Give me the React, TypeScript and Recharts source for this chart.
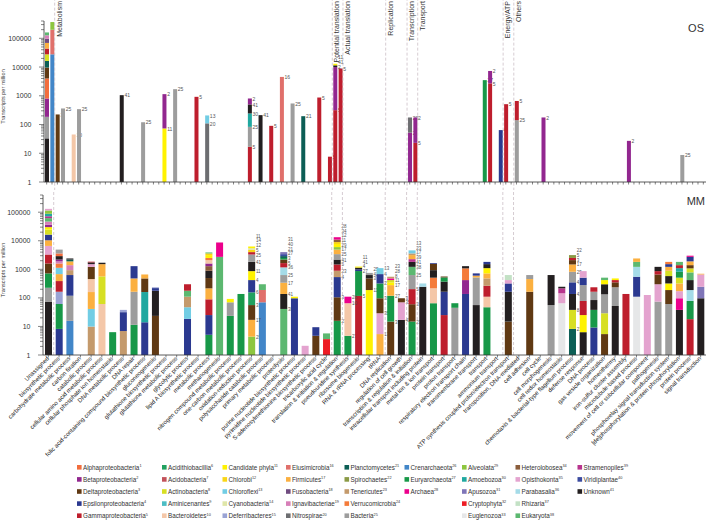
import React from 'react';
import { BarChart, Bar, XAxis, YAxis, ReferenceLine } from 'recharts';

const FONT = '"Liberation Sans", Arial, Helvetica, sans-serif';

// ---------- taxa (legend) ----------
const taxa: string[] = [
  'Alphaproteobacteria', 'Betaproteobacteria', 'Deltaproteobacteria', 'Epsilonproteobacteria', 'Gammaproteobacteria',
  'Acidithiobacillia', 'Acidobacteria', 'Actinobacteria', 'Aminicenantes', 'Bacteroidetes',
  'Candidate phyla', 'Chlorobi', 'Chloroflexi', 'Cyanobacteria', 'Deferribacteres',
  'Elusimicrobia', 'Firmicutes', 'Fusobacteria', 'Ignavibacteriae', 'Nitrospirae',
  'Planctomycetes', 'Spirochaetes', 'Tenericutes', 'Verrucomicrobia', 'Bacteria',
  'Crenarchaeota', 'Euryarchaeota', 'Archaea',
  'Alveolata', 'Amoebozoa', 'Apusozoa', 'Cryptophyta', 'Euglenozoa',
  'Heterolobosea', 'Opisthokonta', 'Parabasalia', 'Rhizaria', 'Eukaryota',
  'Stramenopiles', 'Viridiplantae', 'Unknown',
];

const taxonColors: string[] = [
  '#f26d3d', '#92278f', '#603913', '#2b3990', '#be1e2d',
  '#22a160', '#c2525a', '#d7df23', '#4cbdc4', '#f4c7a8',
  '#fff200', '#f9d616', '#72cde4', '#dfe6a8', '#9aa3d4',
  '#e0706b', '#fbb040', '#704c80', '#d77fb8', '#6d6e71',
  '#0c5e55', '#8a9a45', '#c49a6c', '#f47b3a', '#9d9d9d',
  '#4286c8', '#179848', '#ec008c',
  '#8dc63f', '#20a8a0', '#7f75b8', '#ed1c24', '#e6e7e8',
  '#8b5e3c', '#e4a3cf', '#a5dbe8', '#c3e1c5', '#5cb870',
  '#b8348e', '#3b4ba0', '#231f20',
];

const legendColumnSizes: number[] = [5, 5, 5, 5, 5, 3, 5, 5, 3];

// ---------- MM categories ----------
const mmCategories: string[] = [
  'Unassigned', 'biosynthetic process', 'carbohydrate metabolic process', 'carbon fixation', 'catabolic process',
  'cellular amino acid metabolic process', 'cellular phosphate ion homeostasis', 'DNA metabolic process', 'DNA repair',
  'folic acid-containing compound biosynthetic process', 'gluconeogenesis', 'glutathione biosynthetic process',
  'glutathione metabolic process', 'glycolytic process', 'lipid A biosynthetic process', 'metabolic process',
  'methanogenesis', 'nitrogen compound metabolic process', 'one-carbon metabolic process', 'oxidation-reduction process',
  'polysaccharide catabolic process', 'primary metabolic process', 'proteolysis', 'purine nucleotide biosynthetic process',
  'pyrimidine nucleotide biosynthetic process', 'S-adenosylmethionine biosynthetic process', 'tricarboxylic acid cycle',
  'translation & initiation & regulation', 'pseudouridine synthesis', 'ribosome biogenesis', 'RNA & rRNA processing',
  'tRNA', 'DNA replication', 'regulation of cell growth', 'transcription & regulation & initiation',
  'intracellular transport including protein', 'metal ion & ion transport', 'protein transport', 'proton transport',
  'respiratory electron transport chain', 'transmembrane transport', 'transport', 'ammonium transport',
  'ATP synthesis coupled proton/electron transport', 'transposition, DNA-mediated', 'cell adhesion', 'cell cycle',
  'cell morphogenesis', 'cell redox homeostasis', 'chemotaxis & bacterial-type flagellum process', 'defense response',
  'DNA process', 'gas vesicle organization', 'homeothermy', 'iron-sulfur cluster assembly', 'microtubule-based process',
  'movement of cell or subcellular component', 'pathogenesis', 'phosphorelay signal transduction system',
  '[de]phosphorylation & protein phosphorylation', 'protein process', 'signal transduction',
];

// MM stacks: [category, [[taxonId, cumulative top (TPM)], ...] bottom -> top]
const mmStacks: [string, number[][]][] = [
  ['Unassigned', [[41, 74], [25, 226], [27, 720], [3, 1600], [5, 3300], [35, 6600], [17, 10400], [4, 16400], [8, 24600], [11, 30000], [2, 36600], [19, 47000], [38, 62000], [39, 72000], [30, 88000], [29, 115000], [35, 131000]]],
  ['biosynthetic process', [[4, 8.2], [27, 61], [15, 164], [5, 388], [17, 680], [13, 1130], [24, 1600], [19, 1900], [2, 2200], [41, 2900], [1, 3600], [25, 4900]]],
  ['carbohydrate metabolic process', [[26, 15.7], [25, 119], [4, 630], [23, 935], [19, 1400], [17, 1900], [21, 2200], [41, 2400]]],
  ['catabolic process', [[23, 9.9], [13, 41], [17, 160], [10, 456], [3, 1220], [35, 1520], [41, 1750], [5, 1850]]],
  ['cellular amino acid metabolic process', [[10, 61], [8, 565], [17, 1520], [41, 1700]]],
  ['cellular phosphate ion homeostasis', [[27, 6.3]]],
  ['DNA metabolic process', [[23, 6.9], [4, 31.6], [15, 38]]],
  ['DNA repair', [[27, 11.4], [25, 164], [17, 480], [4, 1290]]],
  ['folic acid-containing compound biosynthetic process', [[4, 14], [30, 160], [3, 480], [17, 660]]],
  ['gluconeogenesis', [[3, 23.4], [41, 178], [4, 220], [15, 235]]],
  ['glycolytic process', [[4, 18.4], [13, 47], [23, 110], [38, 178], [5, 300]]],
  ['metabolic process', [[27, 5.1], [4, 25], [5, 89], [17, 216], [3, 495], [41, 890], [34, 1290], [2, 1600], [10, 2100], [24, 2500], [11, 3150], [12, 3600], [38, 3900]]],
  ['methanogenesis', [[38, 2730], [28, 8700]]],
  ['nitrogen compound metabolic process', [[27, 23.4], [25, 70], [11, 92]]],
  ['one-carbon metabolic process', [[27, 137]]],
  ['oxidation-reduction process', [[29, 4.4], [17, 17], [3, 56], [6, 156], [4, 420], [11, 865], [41, 1820], [25, 3300], [5, 4000], [12, 4800], [14, 5500], [11, 6300]]],
  ['polysaccharide catabolic process', [[26, 70], [16, 189], [38, 300]]],
  ['proteolysis', [[38, 41], [41, 137], [17, 340], [25, 630], [36, 1170], [5, 1650], [3, 2200], [27, 2500], [21, 2900], [40, 3400], [31, 4000]]],
  ['purine nucleotide biosynthetic process', [[4, 97], [11, 110]]],
  ['pyrimidine nucleotide biosynthetic process', [[35, 2.1]]],
  ['S-adenosylmethionine biosynthetic process', [[3, 4.7], [4, 9.4]]],
  ['tricarboxylic acid cycle', [[32, 3.6], [38, 5.7]]],
  ['translation & initiation & regulation', [[27, 15.7], [3, 105], [4, 535], [23, 890], [5, 1480], [41, 2200], [25, 3400], [17, 4900], [29, 6000], [11, 7700], [12, 9000], [34, 11000], [28, 13300]]],
  ['pseudouridine synthesis', [[27, 4.7], [10, 65], [28, 110]]],
  ['ribosome biogenesis', [[5, 117], [27, 870], [4, 1000], [41, 1150], [11, 1250]]],
  ['RNA & rRNA processing', [[11, 188], [3, 480], [41, 630], [25, 750]]],
  ['tRNA', [[17, 5.4], [35, 29], [3, 97], [27, 320], [4, 680], [13, 1100]]],
  ['DNA replication', [[3, 14.8], [27, 119], [17, 280], [11, 350], [8, 420], [28, 480], [23, 550]]],
  ['regulation of cell growth', [[41, 17], [35, 70], [3, 97]]],
  ['transcription & regulation & initiation', [[27, 14.8], [3, 60], [5, 203], [25, 630], [38, 1220], [41, 1820], [39, 2270], [17, 3150], [23, 3600], [13, 4600]]],
  ['intracellular transport including protein', [[41, 245], [36, 320]]],
  ['metal ion & ion transport', [[27, 65], [10, 216], [24, 510], [41, 935], [3, 1550], [4, 1650]]],
  ['protein transport', [[5, 25], [4, 164], [41, 370], [27, 520], [3, 560]]],
  ['proton transport', [[25, 45], [27, 65]]],
  ['respiratory electron transport chain', [[4, 137], [2, 420], [24, 1080], [41, 1290]]],
  ['transmembrane transport', [[41, 56], [25, 520], [17, 600], [4, 720]]],
  ['transport', [[27, 47], [10, 110], [5, 265], [23, 480], [17, 720], [11, 1100], [41, 1520], [4, 1820]]],
  ['ATP synthesis coupled proton/electron transport', [[3, 14.8], [41, 164], [4, 320], [35, 420], [37, 630]]],
  ['cell adhesion', [[3, 164], [17, 456], [25, 630]]],
  ['cell morphogenesis', [[25, 56], [41, 630]]],
  ['cell redox homeostasis', [[33, 65], [35, 145], [39, 216], [41, 245]]],
  ['chemotaxis & bacterial-type flagellum process', [[21, 8.2], [8, 38], [41, 137], [4, 350], [25, 820], [17, 1480], [3, 2100], [5, 2500], [22, 3150]]],
  ['defense response', [[41, 6.3], [11, 25], [5, 78], [25, 280], [4, 510], [35, 865]]],
  ['DNA process', [[4, 9.2], [27, 38], [41, 84], [25, 164], [5, 235]]],
  ['gas vesicle organization', [[3, 5.4], [8, 29], [25, 133], [41, 300], [11, 420], [38, 510]]],
  ['homeothermy', [[41, 52], [25, 235], [3, 350], [5, 420], [11, 480]]],
  ['iron-sulfur cluster assembly', [[5, 137]]],
  ['microtubule-based process', [[33, 110], [4, 550], [36, 1220], [38, 1820], [17, 2400]]],
  ['movement of cell or subcellular component', [[35, 126]]],
  ['pathogenesis', [[25, 74], [35, 300], [3, 660], [5, 865], [41, 1220]]],
  ['phosphorelay signal transduction system', [[25, 61], [3, 188], [11, 320], [41, 580], [8, 890], [17, 1220], [4, 1520], [24, 1820]]],
  ['[de]phosphorylation & protein phosphorylation', [[41, 38], [28, 97], [35, 172], [17, 320], [8, 510], [27, 820], [30, 1100], [5, 1400], [38, 1820]]],
  ['protein process', [[5, 18], [27, 78], [36, 188], [41, 420], [38, 780], [8, 1080], [3, 1400], [17, 1900], [4, 2730], [28, 3000]]],
  ['signal transduction', [[41, 97], [31, 245], [35, 660], [17, 700]]],
];

const mmLabeled: string[] = [
  'oxidation-reduction process', 'proteolysis', 'translation & initiation & regulation', 'pseudouridine synthesis',
  'ribosome biogenesis', 'RNA & rRNA processing', 'tRNA', 'DNA replication', 'regulation of cell growth',
  'transcription & regulation & initiation', 'chemotaxis & bacterial-type flagellum process',
];

// ---------- OS slots ----------
const OS_SLOTS = 124;
const osStacks: [number, number[][]][] = [
  [0, [[41, 33], [25, 185], [2, 805], [1, 4000], [3, 9600], [21, 16300], [8, 27700], [5, 44000], [17, 69000], [18, 96000], [19, 127000], [38, 160000]]],
  [1, [[26, 27700], [16, 198000], [29, 368000]]],
  [2, [[3, 224]]],
  [3, [[25, 362]]],
  [5, [[10, 45]]],
  [6, [[25, 343]]],
  [14, [[41, 1050]]],
  [18, [[25, 120]]],
  [22, [[11, 73], [2, 1140]]],
  [24, [[25, 1700]]],
  [28, [[5, 920]]],
  [30, [[20, 110], [13, 207]]],
  [38, [[5, 16.8], [25, 83], [30, 243], [41, 500], [2, 805]]],
  [40, [[41, 212]]],
  [42, [[5, 90]]],
  [44, [[16, 4530]]],
  [46, [[25, 540]]],
  [48, [[21, 195]]],
  [51, [[5, 870]]],
  [53, [[5, 7.6]]],
  [54, [[5, 316], [2, 10000], [41, 11500], [11, 13000]]],
  [55, [[5, 8900]]],
  [68, [[2, 52], [20, 176]]],
  [69, [[5, 23], [2, 176]]],
  [82, [[27, 3500]]],
  [83, [[5, 2700], [2, 7300]]],
  [85, [[4, 64]]],
  [86, [[5, 510]]],
  [88, [[25, 142], [5, 660]]],
  [93, [[2, 176]]],
  [109, [[2, 27]]],
  [119, [[25, 8.7]]],
];
const osUnlabeled: number[] = [0, 1];

// ---------- functional groups (dashed boundaries) ----------
const groupBounds: [string, string][] = [
  ['Metabolism', 'biosynthetic process'],
  ['Potential translation', 'translation & initiation & regulation'],
  ['Actual translation', 'pseudouridine synthesis'],
  ['Replication', 'DNA replication'],
  ['Transcription', 'transcription & regulation & initiation'],
  ['Transport', 'intracellular transport including protein'],
  ['Energy/ATP', 'ATP synthesis coupled proton/electron transport'],
  ['Others', 'transposition, DNA-mediated'],
];

const yTicks: number[] = [
  1, 2, 3, 4, 5, 6, 7, 8, 9,
  10, 20, 30, 40, 50, 60, 70, 80, 90,
  100, 200, 300, 400, 500, 600, 700, 800, 900,
  1000, 2000, 3000, 4000, 5000, 6000, 7000, 8000, 9000,
  10000, 20000, 30000, 40000, 50000, 60000, 70000, 80000, 90000,
  100000, 200000, 300000, 400000,
];
const yMajor: number[] = [1, 10, 100, 1000, 10000, 100000];

// ---------- table building ----------
const MAX_SEGS = Math.max(...mmStacks.map((s) => s[1].length), ...osStacks.map((s) => s[1].length));
const segIdx: number[] = Array.from({ length: MAX_SEGS }, (_, i) => i);

// gap between stacked labels, in decades of the log axis
function stackRow(name: string, segs: number[][] | undefined, labeled: boolean, gapDec: number) {
  const row: any = { name, labeled };
  let prev = 0;
  let lastLabel = -Infinity;
  for (let k = 0; k < MAX_SEGS; k++) {
    const s = segs ? segs[k] : undefined;
    row['v' + k] = s ? s[1] - prev : 0;
    row['t' + k] = s ? s[0] : 0;
    row['c' + k] = s ? s[1] : prev;
    if (s) {
      const lt = Math.log10(s[1]);
      const pos = Math.max(lt, lastLabel + gapDec);
      row['ls' + k] = pos - lt;
      lastLabel = pos;
      prev = s[1];
    } else {
      row['ls' + k] = 0;
    }
  }
  return row;
}

const mmStackMap = new Map<string, number[][]>(mmStacks);
const mmRows = mmCategories.map((c) => stackRow(c, mmStackMap.get(c), mmLabeled.includes(c), 0.165));
const osStackMap = new Map<number, number[][]>(osStacks);
const osRows = Array.from({ length: OS_SLOTS }, (_, k) =>
  stackRow(String(k), osStackMap.get(k), !osUnlabeled.includes(k), 0.18)
);

const groupLines = groupBounds.map(([label, cat]) => ({ label, cat, idx: mmCategories.indexOf(cat) }));

// ---------- renderers ----------
const segShape = (k: number, fs: number) => (props: any) => {
  const { x, y, width, height, payload } = props;
  const t = payload ? payload['t' + k] : 0;
  if (!t || !(height > 0.01)) return <g />;
  let ly = y;
  if (payload.labeled && payload['ls' + k] > 0) {
    const top = payload['c' + k];
    const bot = Math.max(k > 0 ? payload['c' + (k - 1)] : 1, 1);
    const dec = Math.log10(top) - Math.log10(bot);
    if (dec > 0) ly = y - payload['ls' + k] * (height / dec);
  }
  return (
    <g>
      <rect x={x} y={y} width={width} height={height} fill={taxonColors[t - 1]} />
      {payload.labeled ? (
        <text x={x + width + 0.7} y={ly + fs * 0.36 + 0.4} fontSize={fs} fill="#555" fontFamily={FONT}>
          {t}
        </text>
      ) : null}
    </g>
  );
};

const renderYTick = (props: any) => {
  const { x, y, payload } = props;
  const v = payload.value;
  const major = yMajor.includes(v);
  return (
    <g>
      <line x1={x - (major ? 5 : 3)} x2={x} y1={y} y2={y} stroke="#333" strokeWidth={0.6} />
      {major ? (
        <text x={x - 12.5} y={y} dy="0.36em" textAnchor="end" fontSize={7} fill="#333" fontFamily={FONT}>
          {v}
        </text>
      ) : null}
    </g>
  );
};

const renderOSTick = (props: any) => {
  const { x, y } = props;
  return <line x1={x} x2={x} y1={y} y2={y + 2.5} stroke="#333" strokeWidth={0.6} />;
};

const renderMMTick = (props: any) => {
  const { x, y, payload } = props;
  const ax = x + 1;
  const ay = y + 4;
  return (
    <g>
      <line x1={x} x2={x} y1={y} y2={y + 2.5} stroke="#333" strokeWidth={0.6} />
      <text x={ax} y={ay} transform={`rotate(-45 ${ax} ${ay})`} textAnchor="end" fontSize={6} fill="#222" fontFamily={FONT}>
        {payload.value}
      </text>
    </g>
  );
};

const yTitle = (props: any) => {
  const vb = props.viewBox || {};
  const cx = (vb.x ?? 0) + 5;
  const cy = (vb.y ?? 0) + (vb.height ?? 0) / 2 - 5;
  return (
    <text x={cx} y={cy} transform={`rotate(-90 ${cx} ${cy})`} textAnchor="middle" fontSize={5.6} fill="#333" fontFamily={FONT}>
      Transcripts per million
    </text>
  );
};

const groupLabel = (text: string) => (props: any) => {
  const vb = props.viewBox || {};
  const lx = (vb.x ?? vb.x1 ?? props.x ?? 0) + 7;
  const ly = 1;
  return (
    <text x={lx} y={ly} transform={`rotate(-90 ${lx} ${ly})`} textAnchor="end" fontSize={7} fill="#333" fontFamily={FONT}>
      {text}
    </text>
  );
};

const DASH = { stroke: '#c4b6bf', strokeDasharray: '3 2', strokeWidth: 0.7 };
const AXIS = { stroke: '#333', strokeWidth: 0.8 };

function Legend() {
  const colLeft = [77, 162, 222.5, 286, 344.5, 404.5, 462, 515.5, 577.5];
  const rowY = (r: number) => 467.3 + r * 12.1;
  const items: React.ReactNode[] = [];
  let id = 1;
  legendColumnSizes.forEach((n, c) => {
    for (let r = 0; r < n; r++) {
      const t = id;
      const yy = rowY(r);
      items.push(
        <g key={t}>
          <rect x={colLeft[c]} y={yy - 2.3} width={4.6} height={4.6} fill={taxonColors[t - 1]} />
          <text x={colLeft[c] + 6} y={yy + 2.2} fontSize={6.3} fill="#333" fontFamily={FONT}>
            {taxa[t - 1]}
            <tspan fontSize={3.8} dy={-2.4}>{t}</tspan>
          </text>
        </g>
      );
      id++;
    }
  });
  return <g>{items}</g>;
}

export default function App() {
  return (
    <div style={{ position: 'absolute', left: 0, top: 0, width: 706, height: 524, background: '#fff', overflow: 'hidden' }}>
      <div style={{ position: 'absolute', left: 0, top: 0 }}>
        <BarChart width={706} height={190} data={osRows} margin={{ top: 21, right: 0, bottom: 0, left: 0 }} barSize={4}>
          <XAxis dataKey="name" interval={0} tickSize={0} tickMargin={0} height={8} tick={renderOSTick} tickLine={false} axisLine={AXIS} />
          <YAxis
            type="number"
            scale="log"
            domain={[1, 400000]}
            allowDataOverflow
            ticks={yTicks}
            interval={0}
            width={44}
            tickSize={0}
            tickMargin={0}
            tick={renderYTick}
            tickLine={false}
            axisLine={AXIS}
            label={yTitle}
          />
          {segIdx.map((k) => (
            <Bar key={k} dataKey={'v' + k} stackId="s" shape={segShape(k, 5)} isAnimationActive={false} />
          ))}
          {groupLines.map((g) => (
            <ReferenceLine
              key={g.label}
              segment={[{ x: String(2 * g.idx), y: 0.5 }, { x: String(2 * g.idx), y: 3000000 }]}
              position="start"
              ifOverflow="visible"
              {...DASH}
              label={groupLabel(g.label)}
            />
          ))}
        </BarChart>
      </div>
      <div style={{ position: 'absolute', left: 0, top: 190 }}>
        <BarChart width={706} height={334} data={mmRows} margin={{ top: 5, right: 0, bottom: 0, left: 0 }} barSize={7}>
          <XAxis dataKey="name" interval={0} tickSize={0} tickMargin={0} height={169} tick={renderMMTick} tickLine={false} axisLine={AXIS} />
          <YAxis
            type="number"
            scale="log"
            domain={[1, 400000]}
            allowDataOverflow
            ticks={yTicks}
            interval={0}
            width={43}
            tickSize={0}
            tickMargin={0}
            tick={renderYTick}
            tickLine={false}
            axisLine={AXIS}
            label={yTitle}
          />
          {segIdx.map((k) => (
            <Bar key={k} dataKey={'v' + k} stackId="s" shape={segShape(k, 4.5)} isAnimationActive={false} />
          ))}
          {groupLines.map((g) => (
            <ReferenceLine
              key={g.label}
              segment={[{ x: g.cat, y: 1 }, { x: g.cat, y: 600000 }]}
              position="start"
              ifOverflow="visible"
              {...DASH}
            />
          ))}
        </BarChart>
      </div>
      <svg width={706} height={524} style={{ position: 'absolute', left: 0, top: 0, pointerEvents: 'none' }}>
        <text x={704} y={31.7} textAnchor="end" fontSize={11} fill="#333" fontFamily={FONT}>OS</text>
        <text x={705} y={205} textAnchor="end" fontSize={11} fill="#333" fontFamily={FONT}>MM</text>
        <Legend />
      </svg>
    </div>
  );
}
